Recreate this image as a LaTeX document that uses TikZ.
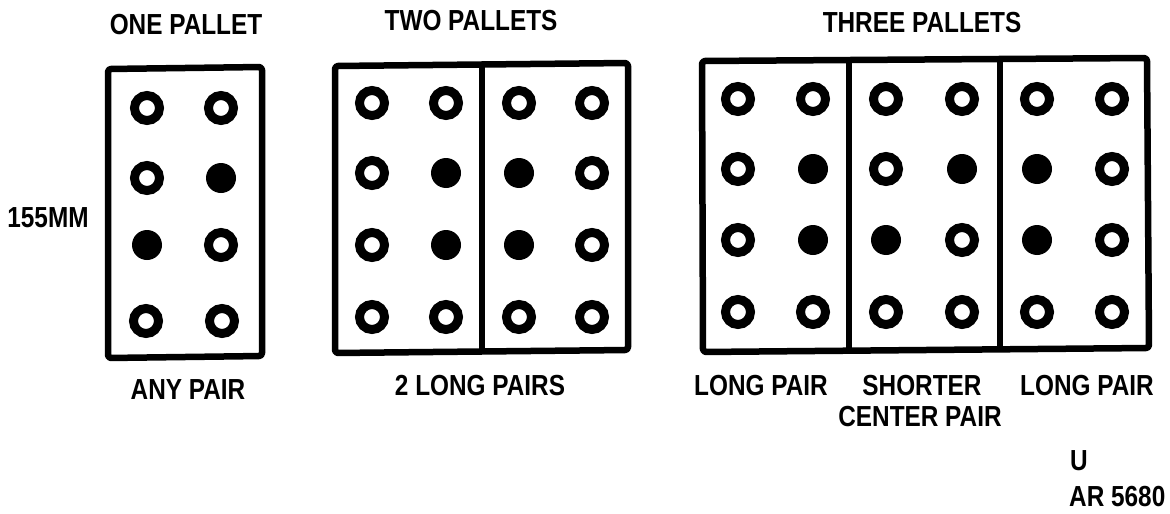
\documentclass[tikz,border=0pt]{standalone}
\usepackage{fontspec}
\setmainfont{Liberation Sans}
\begin{document}
\begin{tikzpicture}[x=1pt,y=-1pt,
  lbl/.style={inner sep=0pt,font=\fontsize{29}{30}\selectfont\bfseries},
  ring/.style={circle,draw,line width=9pt,minimum size=25pt,inner sep=0pt},
  dot/.style={circle,fill,minimum size=30pt,inner sep=0pt},
  frame/.style={line width=6.5pt,line join=round,rounded corners=3pt},
  divider/.style={line width=5.5pt}]
\useasboundingbox (0,0) rectangle (1170,514);
\newcommand\cond[1]{\scalebox{0.84}[1]{#1}}
% titles
\node[lbl] (t1) at (186,25) {\cond{ONE PALLET}};
\node[lbl] (t2) at (471,21) {\cond{TWO PALLETS}};
\node[lbl] (t3) at (922,23) {\cond{THREE PALLETS}};
\node[lbl] (mm) at (48,218) {\cond{155MM}};
% frames
\draw[frame] (108,69) -- (262,67) -- (262,356) -- (108,358) -- cycle;
\draw[frame] (335,66) -- (628,63) -- (628,350) -- (335,353) -- cycle;
\draw[divider] (482,64) -- (482,352);
\draw[frame] (702,61) -- (1147,58) -- (1149,348) -- (703,352) -- cycle;
\draw[divider] (849,60) -- (849,350);
\draw[divider] (1000,59) -- (1000,349);
% one pallet
\node[ring] (a11) at (147,108) {};
\node[ring] (a12) at (221,108) {};
\node[ring] (a21) at (147,178) {};
\node[dot]  (a22) at (221,178) {};
\node[dot]  (a31) at (147,245) {};
\node[ring] (a32) at (221,245) {};
\node[ring] (a41) at (146,321) {};
\node[ring] (a42) at (222,321) {};
% two pallets
\foreach \x [count=\i] in {372,446,519,592}{
  \node[ring] (b1\i) at (\x,103) {};
  \node[ring] (b4\i) at (\x,317) {};
}
\node[ring] (b21) at (372,173) {};
\node[dot]  (b22) at (446,173) {};
\node[dot]  (b23) at (519,173) {};
\node[ring] (b24) at (592,173) {};
\node[ring] (b31) at (372,245) {};
\node[dot]  (b32) at (446,245) {};
\node[dot]  (b33) at (519,245) {};
\node[ring] (b34) at (592,245) {};
% three pallets
\foreach \x [count=\i] in {738,813,886,962,1037,1112}{
  \node[ring] (c1\i) at (\x,99) {};
  \node[ring] (c4\i) at (\x,312) {};
}
\node[ring] (c21) at (738,169) {};
\node[dot]  (c22) at (813,169) {};
\node[ring] (c23) at (886,169) {};
\node[dot]  (c24) at (962,169) {};
\node[dot]  (c25) at (1037,169) {};
\node[ring] (c26) at (1112,169) {};
\node[ring] (c31) at (738,240) {};
\node[dot]  (c32) at (813,240) {};
\node[dot]  (c33) at (886,240) {};
\node[ring] (c34) at (962,240) {};
\node[dot]  (c35) at (1037,240) {};
\node[ring] (c36) at (1112,240) {};
% bottom labels
\node[lbl] (l1) at (188,390) {\cond{ANY PAIR}};
\node[lbl] (l2) at (480,386) {\cond{2 LONG PAIRS}};
\node[lbl] (l3) at (761,386) {\cond{LONG PAIR}};
\node[lbl] (l4) at (922,386) {\cond{SHORTER}};
\node[lbl] (l5) at (920,417) {\cond{CENTER PAIR}};
\node[lbl] (l6) at (1087,386) {\cond{LONG PAIR}};
\node[lbl,anchor=west] (u) at (1070,461) {\cond{U}};
\node[lbl,anchor=west] (ar) at (1069,497) {\cond{AR 5680}};
\end{tikzpicture}
\end{document}
